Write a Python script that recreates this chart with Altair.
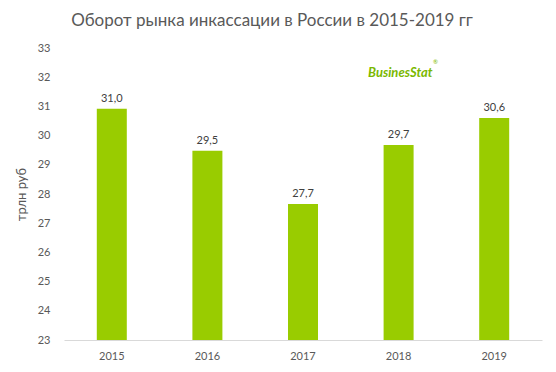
import altair as alt
import pandas as pd

years = ["2015", "2016", "2017", "2018", "2019"]
values = [30.92, 29.48, 27.66, 29.68, 30.6]
labels = ["31,0", "29,5", "27,7", "29,7", "30,6"]
ticks = [23, 24, 25, 26, 27, 28, 29, 30, 31, 32, 33]

df = pd.DataFrame({"year": years, "value": values, "label": labels})
FONT = "Lato"

base = alt.Chart(df).encode(
    x=alt.X("year:N", title=None, sort=years,
            scale=alt.Scale(paddingInner=0.69, paddingOuter=0.345),
            axis=alt.Axis(labelAngle=0, domainColor="#d9d9d9", ticks=False,
                          labelFont=FONT, labelFontSize=11, labelColor="#595959",
                          labelPadding=10)),
    y=alt.Y("value:Q", title="трлн руб",
            scale=alt.Scale(domain=[23, 33], zero=False, nice=False),
            axis=alt.Axis(values=ticks, grid=False, domain=False, ticks=False,
                          labelOverlap=False,
                          labelFont=FONT, labelFontSize=11, labelColor="#595959",
                          labelPadding=14, titleFont=FONT, titleFontSize=13,
                          titleFontWeight="normal", titleColor="#595959", titlePadding=9)),
)

bars = base.mark_bar(color="#99cc00", size=30).encode(y2=alt.datum(23))

text = base.mark_text(dy=-10, font=FONT, fontSize=11, color="#404040").encode(
    text="label:N"
)

logo = alt.Chart(pd.DataFrame({"t": ["BusinesStat"]})).mark_text(
    font=FONT, fontSize=13, fontWeight="bold", fontStyle="italic",
    color="#7ab800", align="left", baseline="middle"
).encode(x=alt.value(304), y=alt.value(25), text="t:N")

reg = alt.Chart(pd.DataFrame({"t": ["®"]})).mark_text(
    font=FONT, fontSize=6, color="#7ab800", align="left"
).encode(x=alt.value(369), y=alt.value(14), text="t:N")

chart = alt.layer(bars, text, logo, reg).properties(
    width=478, height=292,
    autosize=alt.AutoSizeParams(type="none"),
    padding={"left": 56, "top": 40, "right": 6, "bottom": 24},
    title=alt.TitleParams("Оборот рынка инкассации в России в 2015-2019 гг",
                          font=FONT, fontSize=17, fontWeight="normal", color="#595959",
                          anchor="middle", offset=12, dx=-31),
).configure_view(stroke=None)

chart.save("out.html", embed_options={"renderer": "svg", "actions": False})
